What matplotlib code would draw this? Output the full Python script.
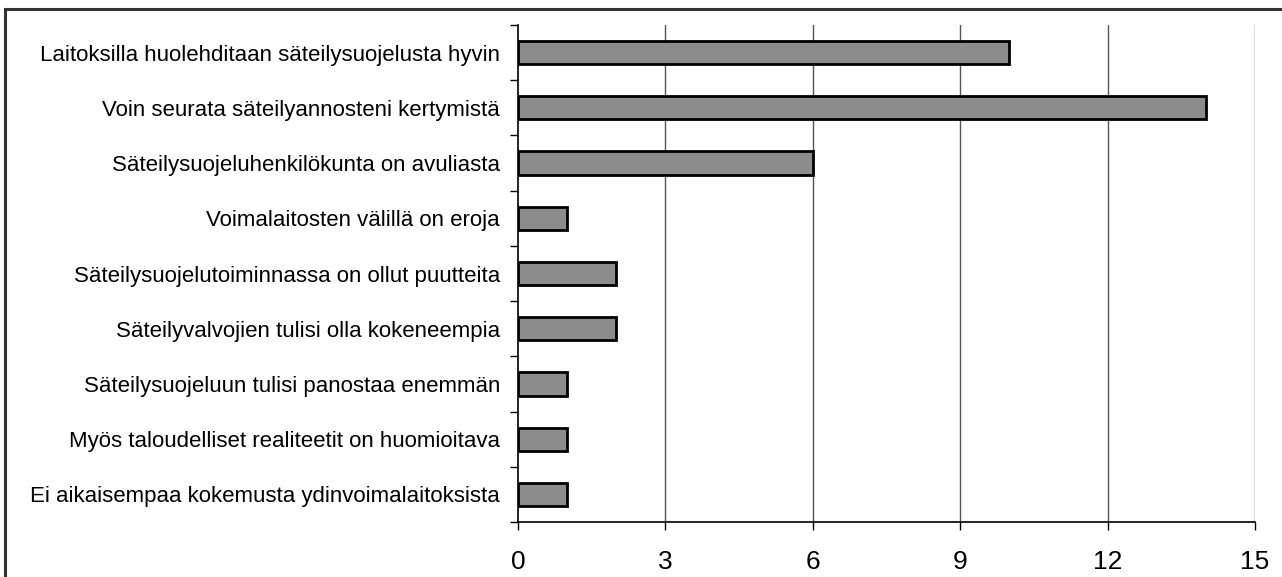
import matplotlib
matplotlib.use("Agg")
import matplotlib.pyplot as plt
from matplotlib.lines import Line2D
import numpy as np

categories = [
    "Laitoksilla huolehditaan säteilysuojelusta hyvin",
    "Voin seurata säteilyannosteni kertymistä",
    "Säteilysuojeluhenkilökunta on avuliasta",
    "Voimalaitosten välillä on eroja",
    "Säteilysuojelutoiminnassa on ollut puutteita",
    "Säteilyvalvojien tulisi olla kokeneempia",
    "Säteilysuojeluun tulisi panostaa enemmän",
    "Myös taloudelliset realiteetit on huomioitava",
    "Ei aikaisempaa kokemusta ydinvoimalaitoksista",
]
values = [10, 14, 6, 1, 2, 2, 1, 1, 1]
xticks = [0, 3, 6, 9, 12, 15]

plt.rcParams['font.family'] = ['Liberation Sans', 'DejaVu Sans']

fig = plt.figure(figsize=(12.82, 5.77), dpi=100)
ax = fig.add_axes([518/1282, 1-522/577, (1255-518)/1282, (522-25)/577])

n = len(categories)
y = np.arange(n)
ax.barh(y, values, height=0.42, color='#8c8c8c', edgecolor='black', linewidth=2.0, zorder=3)
ax.set_ylim(n - 0.5, -0.5)
ax.set_xlim(0, 15)

ax.set_xticks(xticks)
ax.set_xticklabels([str(t) for t in xticks], fontsize=19)
ax.tick_params(axis='x', length=6, width=1, pad=14, direction='out')

ax.set_yticks(y)
ax.set_yticklabels(categories, fontsize=16)
ax.tick_params(axis='y', which='major', length=0, pad=13)
ax.set_yticks(np.arange(n + 1) - 0.5, minor=True)
ax.tick_params(axis='y', which='minor', length=6, width=1, direction='out')

for s in ['top', 'right']:
    ax.spines[s].set_visible(False)
ax.spines['left'].set_linewidth(1.2)
ax.spines['bottom'].set_linewidth(1.2)

for t in xticks[1:]:
    ax.axvline(t, color='#555555', linewidth=1.0, zorder=1)

# figure border (left and top)
fig.add_artist(Line2D([5/1282, 5/1282], [0, 1-9/577], transform=fig.transFigure,
                      color='#333333', linewidth=2.2))
fig.add_artist(Line2D([5/1282, 1], [1-9/577, 1-9/577], transform=fig.transFigure,
                      color='#333333', linewidth=2.2))

fig.savefig("out.png", dpi=100, facecolor='white')
